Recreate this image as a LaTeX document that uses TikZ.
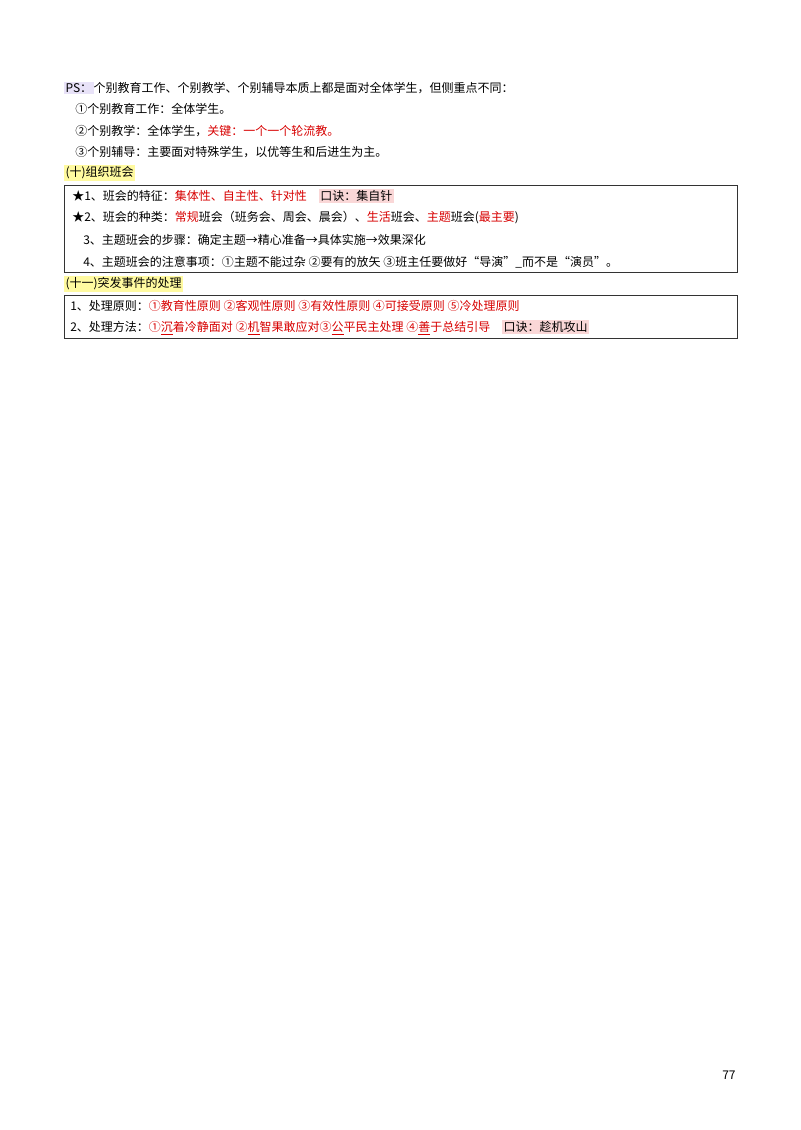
\documentclass[tikz,border=0pt]{standalone}
\usepackage{fontspec}
\setmainfont{Noto Sans CJK SC}
\usepackage{xcolor}
\definecolor{hired}{RGB}{215,0,0}
\definecolor{hlpurple}{RGB}{232,226,248}
\definecolor{hlyellow}{RGB}{255,250,160}
\definecolor{hlpink}{RGB}{250,215,215}
\newcommand{\rd}[1]{\textcolor{hired}{#1}}
\newcommand{\hlbox}[2]{{\setlength{\fboxsep}{1pt}\colorbox{#1}{#2}}}
\begin{document}
\begin{tikzpicture}[x=0.75pt,y=-0.75pt,
  txt/.style={anchor=west,inner sep=0pt,font=\fontsize{9}{11}\selectfont},
  frame/.style={draw=black!80,line width=0.6pt}]
\useasboundingbox (0,0) rectangle (800,1130);

\node[txt] (ps) at (64,88) {\hlbox{hlpurple}{PS：}个别教育工作、个别教学、个别辅导本质上都是面对全体学生，但侧重点不同：};
\node[txt] (psa) at (75,109) {①个别教育工作：全体学生。};
\node[txt] (psb) at (75,131) {②个别教学：全体学生，\rd{关键：一个一个轮流教。}};
\node[txt] (psc) at (75,152) {③个别辅导：主要面对特殊学生，以优等生和后进生为主。};

% (十) 组织班会
\node[txt] (ten) at (64,173) {\hlbox{hlyellow}{(十)组织班会}};
\draw[frame] (64,185) rectangle (737,272);
\node[txt] (tena) at (72,196) {★1、班会的特征：\rd{集体性、自主性、针对性}\hspace{1em}\hlbox{hlpink}{口诀：集自针}};
\node[txt] (tenb) at (72,218) {★2、班会的种类：\rd{常规}班会（班务会、周会、晨会）、\rd{生活}班会、\rd{主题}班会(\rd{最主要})};
\node[txt] (tenc) at (83,240) {3、主题班会的步骤：确定主题→精心准备→具体实施→效果深化};
\node[txt] (tend) at (83,262) {4、主题班会的注意事项：①主题不能过杂 ②要有的放矢 ③班主任要做好“导演”\_而不是“演员”。};

% (十一) 突发事件的处理
\node[txt] (eleven) at (64,284) {\hlbox{hlyellow}{(十一)突发事件的处理}};
\draw[frame] (64,295) rectangle (737,338);
\node[txt] (elevena) at (70,306) {1、处理原则：\rd{①教育性原则 ②客观性原则 ③有效性原则 ④可接受原则 ⑤冷处理原则}};
\node[txt] (elevenb) at (70,328) {2、处理方法：\rd{①\underline{沉}着冷静面对 ②\underline{机}智果敢应对③\underline{公}平民主处理 ④\underline{善}于总结引导}\hspace{1em}\hlbox{hlpink}{口诀：趁机攻山}};

\node[txt] (page) at (722,1075) {77};
\end{tikzpicture}
\end{document}
